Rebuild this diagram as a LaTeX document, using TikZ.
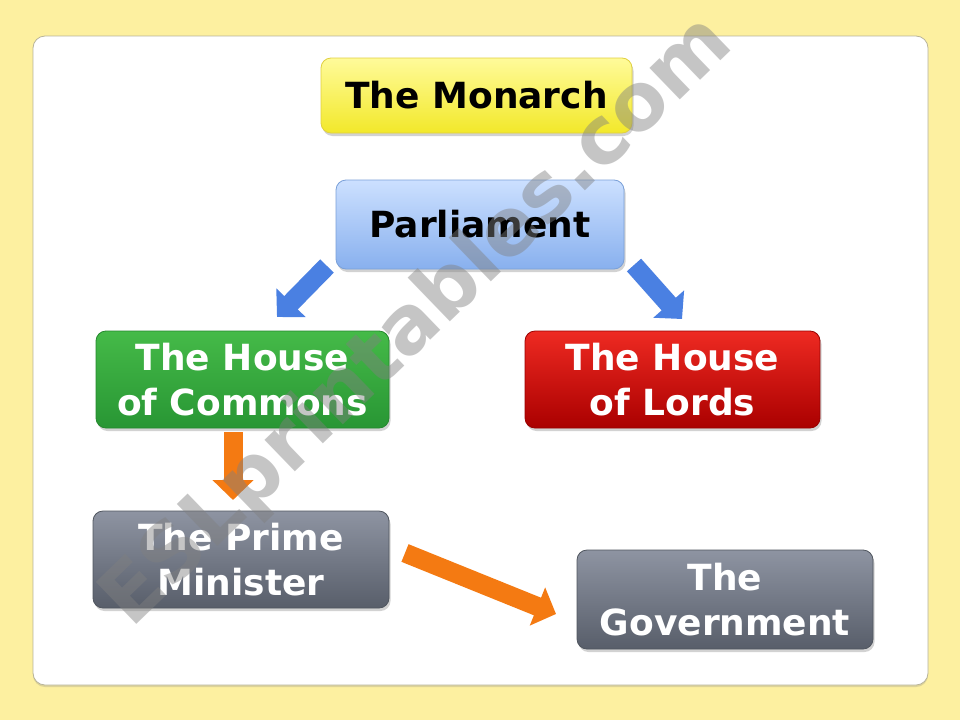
\documentclass[tikz,border=0pt]{standalone}
\usepackage{fontspec}
\setmainfont{DejaVu Sans}
\usetikzlibrary{shadows,arrows.meta}
\definecolor{bgyellow}{HTML}{FDF0A0}
\definecolor{panelline}{HTML}{B8B49A}
\definecolor{monTop}{HTML}{FFFB9A}
\definecolor{monBot}{HTML}{F2E82A}
\definecolor{monLine}{HTML}{E0D040}
\definecolor{parTop}{HTML}{CCE0FF}
\definecolor{parBot}{HTML}{88B0EE}
\definecolor{parLine}{HTML}{7AA0D8}
\definecolor{comTop}{HTML}{45BA48}
\definecolor{comBot}{HTML}{289634}
\definecolor{comLine}{HTML}{25882E}
\definecolor{lorTop}{HTML}{EE2A22}
\definecolor{lorBot}{HTML}{AA0000}
\definecolor{lorLine}{HTML}{990000}
\definecolor{greyTop}{HTML}{8E94A2}
\definecolor{greyBot}{HTML}{585E6A}
\definecolor{greyLine}{HTML}{50565F}
\definecolor{blueArrow}{HTML}{4A80E2}
\definecolor{orangeArrow}{HTML}{F47A12}
\tikzset{
  box/.style={rounded corners=10pt, draw, line width=0.8pt, align=center,
    font=\bfseries\fontsize{36}{45}\selectfont, inner sep=0pt,
    drop shadow={opacity=0.35, shadow xshift=1.5pt, shadow yshift=-3pt}},
  blockarrow/.style={line width=19pt, -{Triangle[width=40pt,length=20pt]}},
  watermark/.style={text=gray, opacity=0.45, font=\bfseries\fontsize{80}{80}\selectfont}
}
\begin{document}
\begin{tikzpicture}[x=1pt,y=-1pt]
\useasboundingbox (0,0) rectangle (960,720);
\fill[bgyellow] (0,0) rectangle (960,720);
\path[fill=white, draw=panelline, line width=0.8pt, rounded corners=12pt,
  drop shadow={opacity=0.25, shadow xshift=0pt, shadow yshift=-2pt}] (33,36) rectangle (928,685);

\node[box, top color=monTop, bottom color=monBot, draw=monLine, text=black,
  minimum width=311pt, minimum height=75pt] (monarch) at (476.5,95.5) {The Monarch};
\node[box, top color=parTop, bottom color=parBot, draw=parLine, text=black,
  minimum width=288pt, minimum height=89pt] (parl) at (480,224.5) {Parliament};
\node[box, top color=comTop, bottom color=comBot, draw=comLine, text=white,
  minimum width=293pt, minimum height=97pt] (commons) at (242.5,379.5) {The House\\of Commons};
\node[box, top color=lorTop, bottom color=lorBot, draw=lorLine, text=white,
  minimum width=295pt, minimum height=97pt] (lords) at (672.5,379.5) {The House\\of Lords};
\node[box, top color=greyTop, bottom color=greyBot, draw=greyLine, text=white,
  minimum width=296pt, minimum height=97pt] (pm) at (241,559.5) {The Prime\\Minister};
\node[box, top color=greyTop, bottom color=greyBot, draw=greyLine, text=white,
  minimum width=296pt, minimum height=99pt] (gov) at (725,599.5) {The\\Government};

\coordinate (a1s) at (327,266);
\coordinate (a1e) at (277,317);
\coordinate (a2s) at (634,265);
\coordinate (a2e) at (682,319);
\coordinate (a3s) at (233,432);
\coordinate (a3e) at (233,500);
\coordinate (a4s) at (405,553);
\coordinate (a4e) at (556,614);

\draw[blockarrow, blueArrow] (a1s) -- (a1e);
\draw[blockarrow, blueArrow] (a2s) -- (a2e);
\draw[blockarrow, orangeArrow] (a3s) -- (a3e);
\draw[blockarrow, orangeArrow] (a4s) -- (a4e);

\node[watermark, rotate=44] (wm) at (418,322) {ESLprintables.com};
\end{tikzpicture}
\end{document}
